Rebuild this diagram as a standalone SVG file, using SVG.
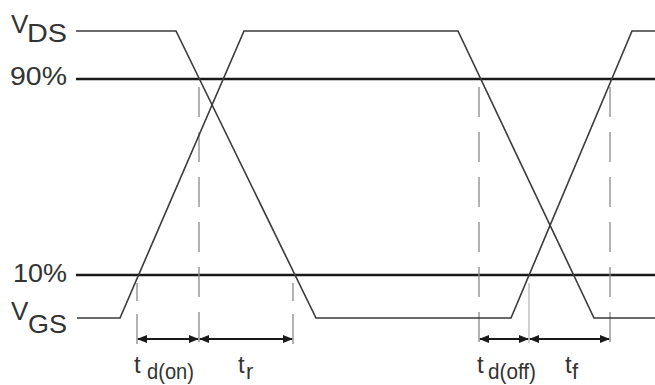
<svg xmlns="http://www.w3.org/2000/svg" width="655" height="385" viewBox="0 0 655 385">
<style>
.lbl{font-family:"Liberation Sans",Arial,sans-serif;fill:#333;}
.big{font-size:26px;}
.t{font-size:24px;}
.sub{font-size:22px;}
.lvl{stroke:#1a1a1a;stroke-width:2.6;fill:none;}
.wave{stroke:#3a3a3a;stroke-width:1.6;fill:none;stroke-linejoin:miter;}
.dash{stroke:#8a8a8a;stroke-width:1.3;stroke-dasharray:30 15;fill:none;}
.arr{stroke:#1a1a1a;stroke-width:2;fill:none;marker-start:url(#ah);marker-end:url(#ah);}
</style>
<defs>
<marker id="ah" viewBox="0 0 10 8" refX="9" refY="4" markerWidth="10" markerHeight="8" markerUnits="userSpaceOnUse" orient="auto-start-reverse">
<path d="M0,0 L10,4 L0,8 Z" fill="#1a1a1a"/>
</marker>
</defs>
<rect width="655" height="385" fill="#fff"/>
<g id="levels">
<line class="lvl" x1="76" y1="79" x2="655" y2="79"/>
<line class="lvl" x1="76" y1="275" x2="655" y2="275"/>
</g>
<g id="markers">
<line class="dash" x1="199" y1="87" x2="199" y2="345"/>
<line class="dash" x1="479" y1="87" x2="479" y2="345"/>
<line class="dash" x1="610" y1="87" x2="610" y2="345"/>
<line class="dash" x1="137" y1="283" x2="137" y2="345" style="stroke-dasharray:18 13 30"/>
<line class="dash" x1="293" y1="283" x2="293" y2="345" style="stroke-dasharray:18 13 30"/>
<line x1="529" y1="283" x2="529" y2="343" stroke="#c4c4c4" stroke-width="1.6"/>
</g>
<g id="vds">
<polyline class="wave" points="76,31 176,31 316,318 511,318 632,31 655,31"/>
</g>
<g id="vgs">
<polyline class="wave" points="77,318 120,318 244,31 458,31 594,318 655,318"/>
</g>
<g id="intervals">
<line class="arr" x1="138" y1="339" x2="198" y2="339"/>
<line class="arr" x1="200" y1="339" x2="292" y2="339"/>
<line class="arr" x1="480" y1="339" x2="528" y2="339"/>
<line class="arr" x1="530" y1="339" x2="609" y2="339"/>
</g>
<g id="labels">
<text class="lbl big" x="11" y="33">V</text><text class="lbl big" x="27" y="42" textLength="40" lengthAdjust="spacingAndGlyphs">DS</text>
<text class="lbl big" x="10" y="85" textLength="57" lengthAdjust="spacingAndGlyphs">90%</text>
<text class="lbl big" x="13" y="282" textLength="54" lengthAdjust="spacingAndGlyphs">10%</text>
<text class="lbl big" x="11" y="320">V</text><text class="lbl big" x="28" y="333" textLength="39" lengthAdjust="spacingAndGlyphs">GS</text>
<text class="lbl t" x="134" y="373">t</text><text class="lbl sub" x="147" y="379" textLength="47" lengthAdjust="spacingAndGlyphs">d(on)</text>
<text class="lbl t" x="238" y="373">t</text><text class="lbl sub" x="246" y="379">r</text>
<text class="lbl t" x="477" y="373">t</text><text class="lbl sub" x="488" y="379" textLength="48" lengthAdjust="spacingAndGlyphs">d(off)</text>
<text class="lbl t" x="565" y="373">t</text><text class="lbl sub" x="572" y="379">f</text>
</g>
</svg>
